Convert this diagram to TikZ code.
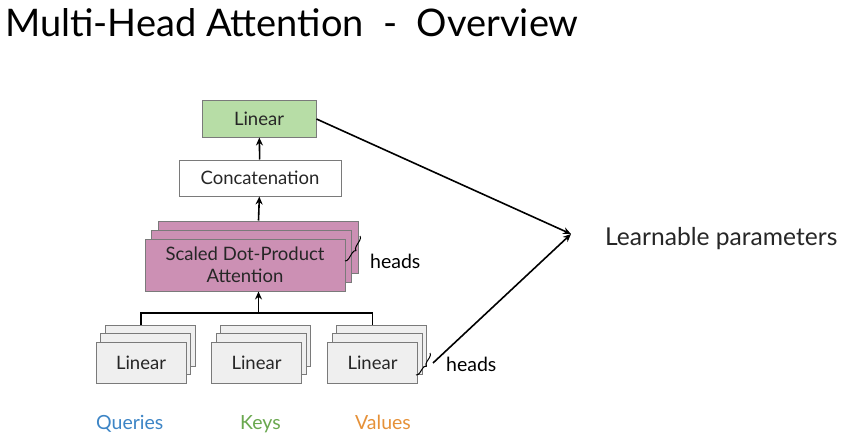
\documentclass[tikz,border=0pt]{standalone}
\usepackage{fontspec}
\setmainfont{Lato}
\usetikzlibrary{arrows.meta,decorations.pathreplacing}
\definecolor{boxline}{HTML}{7A7A7A}
\definecolor{lingreen}{HTML}{B7DDA6}
\definecolor{attnpink}{HTML}{CC90B4}
\definecolor{lingray}{HTML}{EFEFEF}
\definecolor{qblue}{HTML}{3D85C6}
\definecolor{kgreen}{HTML}{6AA84F}
\definecolor{vorange}{HTML}{E69138}
\tikzset{
  box/.style={draw=boxline, line width=1pt, inner sep=0pt, text=black!85,
    font=\fontsize{18.5}{21}\selectfont},
  outbox/.style={box, fill=lingreen, minimum width=114pt, minimum height=36pt},
  catbox/.style={box, fill=white, minimum width=162pt, minimum height=36pt},
  attbox/.style={box, fill=attnpink, minimum width=200pt, minimum height=52pt,
    align=center, font=\fontsize{18.5}{22}\selectfont},
  linbox/.style={box, fill=lingray, minimum width=90pt, minimum height=41pt},
  flow/.style={line width=1.6pt, -{Stealth[length=8pt,width=7pt]}},
  wire/.style={line width=1.6pt},
  headbrace/.style={decorate, decoration={brace, amplitude=4pt}, line width=1pt},
  lbl/.style={font=\fontsize{19.5}{22}\selectfont, anchor=base west, inner sep=0pt},
}
\begin{document}
\begin{tikzpicture}[x=1pt, y=-1pt]
  \useasboundingbox[fill=white] (0,0) rectangle (856,441);

  % title
  \node[anchor=base west, inner sep=0pt, font=\fontsize{38}{43}\selectfont]
    (title) at (5,37) {Multi-Head Attention \ -\ \ Overview};

  % output projection and concatenation
  \node[outbox] (out) at (259,119) {Linear};
  \node[catbox] (cat) at (260,178) {Concatenation};

  % stacked attention heads
  \node[attbox] (attback) at (258.5,247) {};
  \node[attbox] (attmid) at (251.5,256) {};
  \node[attbox] (att) at (245,265) {Scaled Dot-Product\\Attention};

  % stacked input projections
  \foreach \n/\cx in {q/141, k/256.5, v/372.5}{
    \node[linbox] (\n back) at (\cx+9,345.5) {};
    \node[linbox] (\n mid) at (\cx+4.5,354) {};
    \node[linbox] (\n) at (\cx,363) {Linear};
  }

  % data flow
  \draw[flow] (cat) -- (out);
  \draw[flow] (attback.north) -- (cat);
  \coordinate (bar) at (0,313);
  \draw[wire] (q |- qback.north) -- (q |- bar) -- (v |- bar) -- (v |- vback.north);
  \draw[flow] (attback |- bar) -- (attback |- att.south);

  % head braces
  \draw[headbrace] (360,236) -- (345,261);
  \node[lbl] (hatt) at (370,268) {heads};
  \draw[headbrace] (430,353) -- (416,375);
  \node[lbl] (hlin) at (446,371) {heads};

  % input labels
  \node[lbl, text=qblue] (ql) at (96,429) {Queries};
  \node[lbl, text=kgreen] (kl) at (240,429) {Keys};
  \node[lbl, text=vorange] (vl) at (355,429) {Values};

  % learnable parameters
  \node[anchor=base west, inner sep=0pt, font=\fontsize{24.6}{28}\selectfont, text=black!85]
    (lp) at (605,245) {Learnable parameters};
  \coordinate (lpin) at (571,234);
  \coordinate (vtip) at (433,363);
  \draw[flow] (out.east) -- (lpin);
  \draw[flow] (vtip) -- (lpin);
\end{tikzpicture}
\end{document}
